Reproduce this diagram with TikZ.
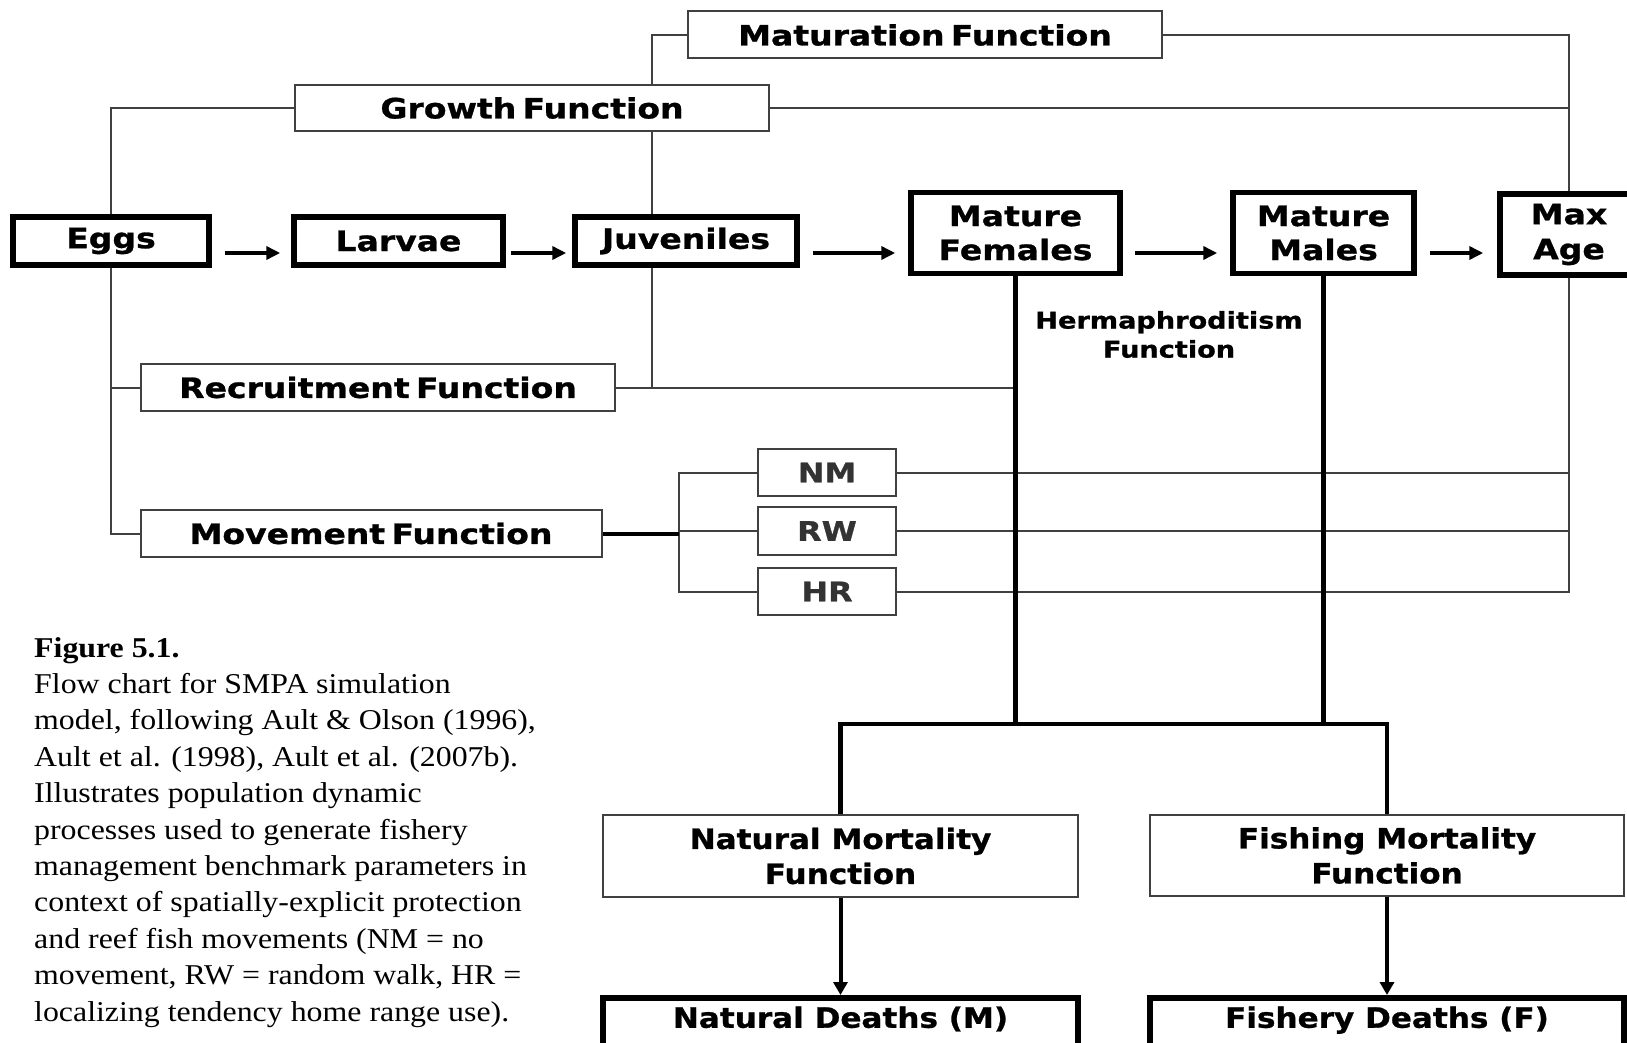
\documentclass[tikz,border=0pt]{standalone}
\usepackage{fontspec}
\setmainfont{Liberation Serif}[FakeStretch=1.11]
\newfontfamily\boxfont{DejaVu Sans}[FakeStretch=1.18, FakeBold=1, WordSpace=0.55]
\newfontfamily\boxfontn{DejaVu Sans}[FakeStretch=1.11, FakeBold=1]
\usetikzlibrary{arrows.meta,calc}
\tikzset{
  lbl/.style={font=\boxfont\bfseries\fontsize{28}{33}\selectfont, align=center, text=black},
  thickbox/.style={lbl, draw=black, line width=5.5pt, inner sep=0pt},
  thinbox/.style={lbl, draw=black!75, line width=2pt, inner sep=0pt},
  smallbox/.style={thinbox, minimum width=138pt, text=black!80, font=\boxfont\bfseries\fontsize{27}{30}\selectfont},
  conn/.style={draw=black!75, line width=2pt},
  heavy/.style={draw=black, line width=4.5pt, line join=miter},
  arr/.style={draw=black, line width=4pt, -{Triangle[length=14pt,width=13pt]}},
  varr/.style={draw=black, line width=4pt, -{Triangle[length=13pt,width=14pt]}},
}
\begin{document}
\begin{tikzpicture}[x=1pt,y=1pt]
\useasboundingbox[fill=white] (0,0) rectangle (1627,-1043);

% life-cycle boxes
\node[thickbox, minimum width=196pt, minimum height=48pt] (Eggs) at (111,-241) {Eggs};
\node[thickbox, minimum width=209pt, minimum height=48pt] (Larvae) at (398.5,-241) {Larvae};
\node[thickbox, minimum width=222pt, minimum height=48pt] (Juv) at (686,-241) {Juveniles};
\node[thickbox, minimum width=209pt, minimum height=81pt, font=\boxfont\bfseries\fontsize{28}{34}\selectfont] (Fem) at (1015.5,-233) {Mature\\Females};
\node[thickbox, minimum width=181pt, minimum height=81pt, font=\boxfont\bfseries\fontsize{28}{34}\selectfont] (Mal) at (1323.5,-233) {Mature\\Males};
\node[thickbox, minimum width=138pt, minimum height=81pt, font=\boxfont\bfseries\fontsize{28}{35}\selectfont] (Max) at (1569,-234.5) {Max\\Age};

% function boxes
\node[thinbox, minimum width=474pt, minimum height=47pt] (Mat) at (925,-35) {Maturation Function};
\node[thinbox, minimum width=474pt, minimum height=46pt] (Gro) at (532,-108) {Growth Function};
\node[thinbox, minimum width=474pt, minimum height=47pt] (Rec) at (378,-387.5) {Recruitment Function};
\node[thinbox, minimum width=461pt, minimum height=47pt] (Mov) at (371,-533.5) {Movement Function};
\node[smallbox, minimum height=47pt] (NM) at (827,-472.5) {NM};
\node[smallbox, minimum height=48pt] (RW) at (827,-531) {RW};
\node[smallbox, minimum height=47pt] (HR) at (827,-591.5) {HR};
\node[thinbox, minimum width=475pt, minimum height=82pt, font=\boxfontn\bfseries\fontsize{28}{35}\selectfont] (NMF) at (840.5,-856) {Natural Mortality\\Function};
\node[thinbox, minimum width=474pt, minimum height=81pt, font=\boxfontn\bfseries\fontsize{28}{35}\selectfont] (FMF) at (1387,-855.5) {Fishing Mortality\\Function};
\node[thickbox, minimum width=475pt, text height=21pt, text depth=23pt, inner ysep=9pt, anchor=north, font=\boxfontn\bfseries\fontsize{28}{33}\selectfont] (ND) at (840.5,-995) {Natural Deaths (M)};
\node[thickbox, minimum width=474pt, text height=21pt, text depth=23pt, inner ysep=9pt, anchor=north, font=\boxfontn\bfseries\fontsize{28}{33}\selectfont] (FD) at (1387,-995) {Fishery Deaths (F)};

\node[lbl, font=\boxfont\bfseries\fontsize{23}{29}\selectfont] (Her) at (1169,-334.5) {Hermaphroditism\\Function};

% helper coordinates
\coordinate (ay) at (0,-253);
\coordinate (J) at (652,-388);
\coordinate (M) at (679,-533);
\coordinate (bar) at (0,-724);

% horizontal arrows
\draw[arr, shorten <=13pt, shorten >=11pt] (Eggs.east |- ay) -- (Larvae.west |- ay);
\draw[arr, shorten <=5pt, shorten >=6pt] (Larvae.east |- ay) -- (Juv.west |- ay);
\draw[arr, shorten <=13pt, shorten >=13pt] (Juv.east |- ay) -- (Fem.west |- ay);
\draw[arr, shorten <=12pt, shorten >=13pt] (Fem.east |- ay) -- (Mal.west |- ay);
\draw[arr, shorten <=13pt, shorten >=14pt] (Mal.east |- ay) -- (Max.west |- ay);

% thin connectors
\draw[conn] (Eggs.north) |- (Gro.west);
\draw[conn] (Gro.east) -- (Gro.east -| Max.north);
\draw[conn] (Mat.east) -| (Max.north);
\draw[conn] (Mat.west) -| (J |- Gro.north);
\draw[conn] (J |- Gro.south) -- (J |- Juv.north);
\draw[conn] (J |- Juv.south) -- (J);
\draw[conn] (Rec.east) -- (Rec.east -| Fem.south);
\draw[conn] (Eggs.south) |- (Mov.west);
\draw[conn] (Eggs.south |- Rec.west) -- (Rec.west);
\draw[conn] (NM.west) -| (M |- HR.west) -- (HR.west);
\draw[conn] (M |- RW.west) -- (RW.west);
\draw[conn] (NM.east) -- (NM.east -| Max.south);
\draw[conn] (RW.east) -- (RW.east -| Max.south);
\draw[conn] (HR.east) -| (Max.south);
\draw[draw=black, line width=4pt] (Mov.east) -- (M |- Mov.east);

% heavy connectors
\draw[heavy] (Fem.south) -- (Fem.south |- bar);
\draw[heavy] (Mal.south) -- (Mal.south |- bar);
\draw[heavy] (NMF.north) -- (NMF.north |- bar) -- (FMF.north |- bar) -- (FMF.north);
\draw[varr] (NMF.south) -- (ND.north);
\draw[varr] (FMF.south) -- (FD.north);

% caption
\node[anchor=north west, inner sep=0pt, align=left, font=\fontsize{28.7}{36.4}\selectfont] (cap) at (34,-637) {%
\textbf{Figure 5.1.}\\
Flow chart for SMPA simulation\\
model, following Ault \& Olson (1996),\\
Ault et al. (1998), Ault et al. (2007b).\\
Illustrates population dynamic\\
processes used to generate fishery\\
management benchmark parameters in\\
context of spatially-explicit protection\\
and reef fish movements (NM = no\\
movement, RW = random walk, HR =\\
localizing tendency home range use).};
\end{tikzpicture}
\end{document}
